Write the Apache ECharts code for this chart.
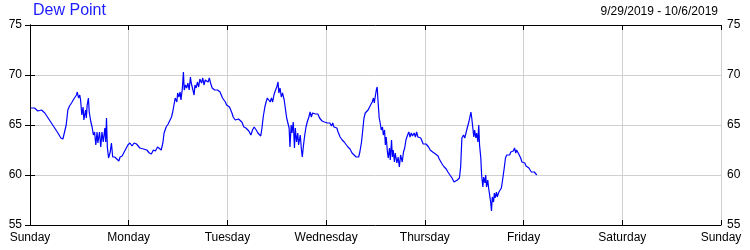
<!DOCTYPE html>
<html>
<head>
<meta charset="utf-8">
<script src="https://cdn.jsdelivr.net/npm/echarts@6/dist/echarts.min.js"></script>
<style>
html,body{margin:0;padding:0;background:#fff;}
#chart{width:750px;height:250px;}
</style>
</head>
<body>
<div id="chart"></div>
<script>
// Day-of-week tick labels (one every 24 hours, Sunday 9/29/2019 through Sunday 10/6/2019)
const dayLabels = ['Sunday','Monday','Tuesday','Wednesday','Thursday','Friday','Saturday','Sunday'];
const yTickValues = [55, 60, 65, 70, 75];
const chartTitle = 'Dew Point';
const dateRange = '9/29/2019 - 10/6/2019';

// Readings: [hours since Sunday 00:00, dew point °F]
const sundayReadings = [[0.2,66.7],[1.1,66.7],[1.9,66.4],[2.8,66.5],[3.6,66.2],[4.4,65.7],[5.2,65.2],[6.0,64.7],[6.8,64.2],[7.5,63.7],[8.0,63.6],[8.4,63.8],[8.8,65.0],[9.2,66.5],[9.6,66.9],[10.1,67.2],[10.5,67.5],[10.9,67.7],[11.3,68.0],[11.5,68.3],[11.8,67.7],[12.1,68.0],[12.3,67.5],[12.6,66.0],[12.9,66.8],[13.1,65.5],[13.5,66.5],[13.7,65.7],[13.9,67.0],[14.2,67.7],[14.4,66.3],[14.8,65.3],[15.1,64.8],[15.4,64.0],[15.7,64.3],[16.0,63.0],[16.3,64.3],[16.5,63.2],[16.9,64.3],[17.2,62.8],[17.5,64.3],[17.8,63.3],[18.2,64.7],[18.4,63.3],[18.6,65.7],[18.8,62.8],[19.1,61.7],[19.5,62.3],[19.8,63.2],[20.1,61.8],[20.6,61.8],[21.1,61.6],[21.6,61.4],[21.9,61.8],[22.4,61.9],[22.9,62.3],[23.3,62.2],[23.8,63.0]];
const mondayReadings = [[24.3,63.2],[24.8,62.9],[25.3,63.2],[25.9,63.1],[26.7,62.7],[27.6,62.6],[28.4,62.5],[29.0,62.2],[29.5,62.1],[30.0,62.5],[30.5,62.4],[31.0,62.8],[31.4,62.6],[31.9,62.5],[32.3,63.2],[32.6,64.2],[33.1,64.8],[33.6,65.1],[34.0,65.2],[34.4,65.8],[34.7,66.3],[35.0,67.0],[35.3,67.7],[35.7,67.3],[35.9,68.2],[36.2,67.8],[36.5,68.3],[36.7,67.5],[37.0,68.5],[37.1,69.0],[37.3,70.3],[37.5,68.5],[37.8,69.0],[38.1,68.7],[38.4,69.2],[38.7,68.5],[39.0,69.8],[39.2,69.2],[39.6,69.3],[39.9,68.0],[40.1,69.0],[40.4,68.7],[40.7,69.3],[41.0,68.8],[41.3,69.6],[41.7,69.2],[42.0,69.7],[42.3,69.0],[42.6,69.5],[43.0,69.7],[43.3,69.3],[43.6,69.7],[43.9,69.2],[44.3,68.7],[44.6,68.8],[44.9,68.5],[45.2,68.7],[45.6,68.5],[45.9,68.7],[46.2,68.3],[46.5,68.2],[46.8,67.7],[47.2,67.5],[47.5,67.3],[47.8,67.0]];
const tuesdayReadings = [[48.1,67.1],[48.5,66.8],[48.8,66.5],[49.1,66.2],[49.4,65.8],[49.9,65.5],[50.7,65.6],[51.5,65.3],[52.0,64.8],[52.5,64.7],[53.2,64.4],[53.7,64.0],[54.1,64.5],[54.5,64.8],[55.0,64.5],[55.4,64.2],[56.1,63.9],[56.4,64.7],[56.7,65.8],[57.1,66.8],[57.4,67.3],[57.7,67.7],[58.0,67.5],[58.4,67.3],[58.7,67.7],[59.0,67.3],[59.3,68.0],[59.7,68.5],[60.0,68.8],[60.3,69.3],[60.5,68.2],[60.8,68.7],[61.1,67.8],[61.4,68.2],[61.8,67.5],[62.1,67.7],[62.4,65.7],[62.7,65.5],[63.0,64.7],[63.2,62.8],[63.5,65.0],[63.7,64.2],[64.0,65.3],[64.3,62.7],[64.5,64.7],[64.8,63.3],[65.1,64.2],[65.3,63.0],[65.7,64.0],[66.0,62.5],[66.2,61.8],[66.5,63.0],[66.8,64.0],[67.1,64.8],[67.4,65.3],[67.8,65.8],[68.1,66.3],[68.4,65.8],[68.7,66.2],[69.1,66.0],[69.4,66.1],[69.7,65.9],[70.0,66.1],[70.4,65.7],[70.7,65.7],[71.0,65.4],[71.3,65.5],[71.6,65.3]];
const wednesdayReadings = [[72.0,65.4],[72.3,65.2],[72.6,65.1],[72.9,65.2],[73.3,64.9],[73.6,65.2],[73.9,64.8],[74.2,64.9],[74.6,64.7],[74.9,64.3],[75.4,63.8],[75.9,63.5],[76.4,63.3],[76.8,63.2],[77.3,62.8],[77.8,62.6],[78.3,62.2],[78.8,62.0],[79.3,61.8],[79.6,61.6],[79.9,61.8],[80.2,62.3],[80.6,63.3],[80.9,64.5],[81.2,65.7],[81.5,66.2],[81.9,66.3],[82.2,66.5],[82.5,66.7],[82.8,67.0],[83.2,67.3],[83.5,67.7],[83.7,67.2],[84.0,68.0],[84.2,68.5],[84.4,68.8],[84.6,67.5],[84.9,65.7],[85.1,65.3],[85.4,64.5],[85.7,64.8],[85.9,64.0],[86.2,64.5],[86.4,63.0],[86.6,63.8],[86.9,62.3],[87.1,61.7],[87.4,62.7],[87.6,61.5],[87.9,63.5],[88.1,61.8],[88.3,62.5],[88.6,61.3],[88.8,62.2],[89.2,61.2],[89.5,61.8],[89.8,60.8],[90.1,62.0],[90.5,61.3],[90.8,62.3],[91.1,62.7],[91.4,63.5],[91.8,64.0],[92.1,64.3],[92.4,63.8],[92.7,64.2],[93.0,63.9],[93.4,64.2],[93.7,63.8],[94.0,64.3],[94.3,63.8],[94.7,64.0],[95.0,63.7],[95.3,63.5],[95.6,63.1]];
const thursdayReadings = [[96.0,63.3],[96.3,63.1],[96.6,63.2],[96.9,62.8],[97.3,62.5],[97.6,62.4],[97.9,62.3],[98.2,62.4],[98.6,62.1],[98.9,62.0],[99.2,61.9],[99.5,61.6],[99.7,61.5],[100.2,61.1],[100.7,60.8],[101.2,60.6],[101.6,60.3],[102.1,60.0],[102.6,59.7],[103.1,59.3],[103.4,59.4],[103.9,59.5],[104.4,59.7],[104.7,60.8],[105.0,63.7],[105.4,64.0],[105.7,63.7],[106.0,64.2],[106.3,64.7],[106.7,65.3],[106.9,65.7],[107.2,66.3],[107.4,65.7],[107.6,65.8],[107.9,63.8],[108.1,64.5],[108.4,63.7],[108.6,64.2],[108.9,63.3],[109.1,65.0],[109.3,63.0],[109.6,61.7],[109.8,60.0],[110.1,58.8],[110.3,59.8],[110.6,59.2],[110.8,60.0],[111.0,58.8],[111.3,59.5],[111.5,58.7],[111.8,58.8],[112.0,57.3],[112.2,56.4],[112.4,57.8],[112.7,57.3],[112.9,58.2],[113.1,57.7],[113.4,58.3],[113.6,57.8],[114.0,58.3],[114.3,58.2],[114.6,58.7],[114.9,59.5],[115.3,60.7],[115.6,61.7],[115.9,62.0],[116.2,62.2],[116.6,62.0],[116.9,62.3],[117.2,62.2],[117.5,62.4],[117.8,62.7],[118.1,62.2],[118.3,62.5],[118.7,62.2],[119.0,62.0],[119.3,61.7],[119.6,61.3]];
const fridayReadings = [[120.0,61.2],[120.3,61.2],[120.6,60.9],[120.9,60.8],[121.3,60.7],[121.6,60.5],[121.9,60.3],[122.2,60.2],[122.6,60.3],[122.9,60.1],[123.2,60.0]];

const dewPointData = [].concat(sundayReadings, mondayReadings, tuesdayReadings, wednesdayReadings, thursdayReadings, fridayReadings);

const FONT = '"Liberation Sans", Arial, sans-serif';
const chart = echarts.init(document.getElementById('chart'), null, {renderer: 'canvas'});

const tickStyle = {show: true, inside: true, length: 5, lineStyle: {color: '#000', width: 1}};
const lineAxis = {show: true, lineStyle: {color: '#000', width: 1}};
const gridLine = {show: true, lineStyle: {color: '#d0d0d0', width: 1}};

chart.setOption({
  animation: false,
  backgroundColor: '#fff',
  title: [
    {text: chartTitle, left: 33, top: 3, padding: 0,
     textStyle: {color: '#1c1cff', fontSize: 16, fontWeight: 'normal', fontFamily: FONT}},
    {text: dateRange, right: 32, top: 6, padding: 0,
     textStyle: {color: '#000', fontSize: 12, fontWeight: 'normal', fontFamily: FONT}}
  ],
  grid: {left: 30, right: 29, top: 25, bottom: 25, containLabel: false},
  xAxis: [
    {type: 'value', position: 'bottom', min: 0, max: (dayLabels.length - 1) * 24, interval: 24,
     axisLine: lineAxis, axisTick: tickStyle, splitLine: gridLine,
     axisLabel: {show: true, margin: 7, color: '#000', fontSize: 12, fontFamily: FONT,
       showMinLabel: true, showMaxLabel: true,
       formatter: v => dayLabels[Math.round(v / 24)]}},
    {type: 'value', position: 'top', min: 0, max: (dayLabels.length - 1) * 24, interval: 24,
     axisLine: lineAxis, axisTick: tickStyle, splitLine: {show: false}, axisLabel: {show: false}}
  ],
  yAxis: [
    {type: 'value', position: 'left', min: yTickValues[0], max: yTickValues[yTickValues.length - 1], interval: 5,
     axisLine: lineAxis, axisTick: tickStyle, splitLine: gridLine,
     axisLabel: {margin: 8, color: '#000', fontSize: 12, fontFamily: FONT, showMinLabel: true, showMaxLabel: true}},
    {type: 'value', position: 'right', min: yTickValues[0], max: yTickValues[yTickValues.length - 1], interval: 5,
     axisLine: lineAxis, axisTick: tickStyle, splitLine: {show: false},
     axisLabel: {margin: 6, color: '#000', fontSize: 12, fontFamily: FONT, showMinLabel: true, showMaxLabel: true}}
  ],
  series: [{
    name: chartTitle,
    type: 'line',
    xAxisIndex: 0,
    yAxisIndex: 0,
    data: dewPointData,
    showSymbol: false,
    symbol: 'none',
    smooth: false,
    lineStyle: {color: '#0000ff', width: 1.2},
    itemStyle: {color: '#0000ff'}
  }]
});
</script>
</body>
</html>
